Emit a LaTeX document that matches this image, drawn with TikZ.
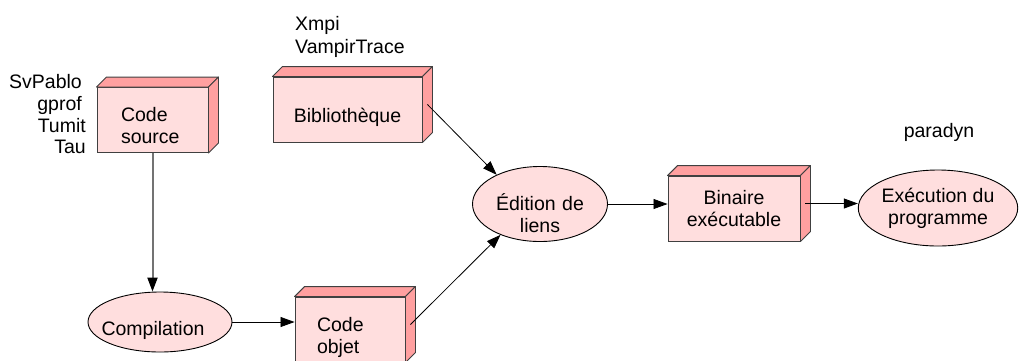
\documentclass[tikz,border=0pt]{standalone}
\usepackage{fontspec}
\setmainfont{Liberation Sans}
\usetikzlibrary{arrows.meta,shapes.geometric}
\definecolor{facefront}{RGB}{255,222,222}
\definecolor{faceside}{RGB}{255,160,160}
\definecolor{edgegray}{RGB}{64,64,64}

% top and right faces of a 3D box drawn behind a front rectangle node
\newcommand\cubedepth[1]{%
  \path[cubeface] (#1.north west) -- ([shift={(10,-10)}]#1.north west)
    -- ([shift={(10,-10)}]#1.north east) -- (#1.north east) -- cycle;
  \path[cubeface] (#1.north east) -- ([shift={(10,-10)}]#1.north east)
    -- ([shift={(10,-10)}]#1.south east) -- (#1.south east) -- cycle;
  \coordinate (#1side) at ([shift={(5,-5)}]#1.east);
}

\begin{document}
\begin{tikzpicture}[x=1pt,y=-1pt,
  font=\fontsize{19.5}{22}\selectfont,
  cube/.style={rectangle, draw=edgegray, line width=0.9pt, fill=facefront,
    minimum height=65pt, inner sep=0pt},
  cubeface/.style={draw=edgegray, line width=0.9pt, fill=faceside, line join=round},
  oval/.style={ellipse, draw=black, line width=0.9pt, fill=facefront,
    inner sep=0pt, align=center},
  % struts that set the text a little below the middle of its shape
  drop/.style={execute at begin node={\rule{0pt}{#1}},
    execute at end node={\rule[-6pt]{0pt}{6pt}}},
  link/.style={draw=black, line width=0.8pt,
    -{Triangle[length=14pt,width=10pt,color=black]}},
  graylink/.style={link, draw=black!55, line width=2pt},
  tool/.style={inner sep=0pt}
]
\useasboundingbox (0,0) rectangle (1019,360);

% program stages
\node[cube, drop=31pt, inner xsep=24pt, text width=63pt, align=left] (src) at (152.5,120) {Code\\source};
\cubedepth{src}
\node[cube, drop=31pt, minimum width=149pt, align=center] (lib) at (347.5,109.5) {Biblioth\`eque};
\cubedepth{lib}
\node[cube, drop=31pt, inner xsep=22pt, text width=66pt, align=left] (obj) at (350,329.5) {Code\\objet};
\cubedepth{obj}
\node[cube, minimum width=132pt, align=center] (bin) at (734,208.5) {Binaire\\ex\'ecutable};
\cubedepth{bin}

\node[oval, drop=32pt, minimum width=144pt, minimum height=60pt] (comp) at (160,322) {\hspace*{-14pt}Compilation};
\node[oval, drop=40pt, text width=92pt, inner ysep=-15pt, minimum width=135pt, minimum height=75pt] (edit) at (540,204) {\'Edition de\\liens};
\node[oval, minimum width=158pt, minimum height=76pt] (exec) at (938,208) {Ex\'ecution du\\programme};

% tools
\node[tool, anchor=base east] (svpablo) at (82,88) {SvPablo};
\node[tool, anchor=base east] (gprof) at (82,110) {gprof};
\node[tool, anchor=base east] (tumit) at (86,132) {Tumit};
\node[tool, anchor=base east] (tau) at (86,153) {Tau};
\node[tool, anchor=base west] (xmpi) at (295,30) {Xmpi};
\node[tool, anchor=base west] (vampir) at (295,53) {VampirTrace};
\node[tool, anchor=base] (paradyn) at (939,137) {paradyn};

% flow
\draw[graylink] (src.south) -- (src.south |- comp.north);
\draw[link] (comp.east) -- (comp.east -| obj.west);
\draw[link] (libside) -- (edit.146);
\draw[link] (objside) -- (edit.218);
\draw[link] (edit.east) -- (edit.east -| bin.west);
\draw[link] (binside) -- (binside -| exec.west);
\end{tikzpicture}
\end{document}
